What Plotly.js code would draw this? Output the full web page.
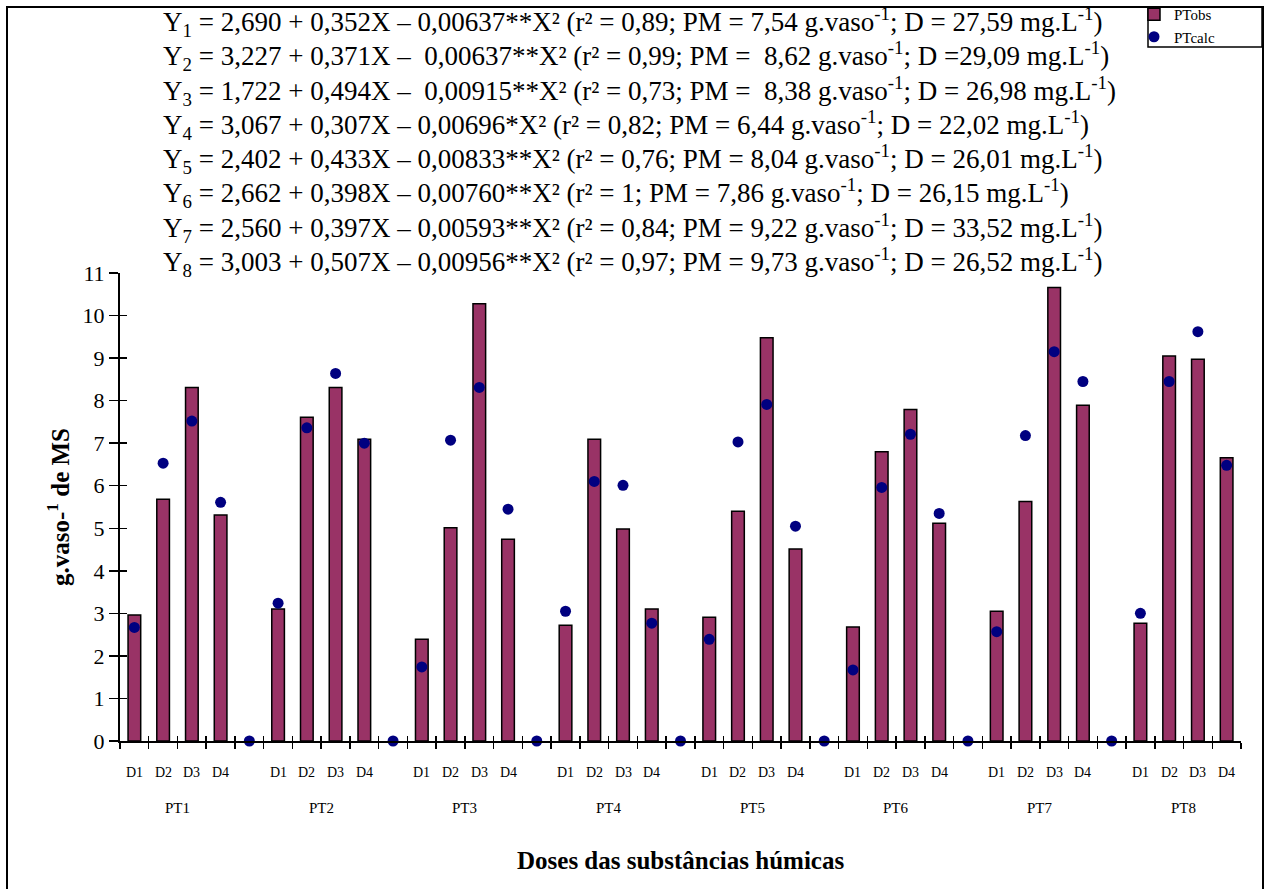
<!DOCTYPE html>
<html>
<head>
<meta charset="utf-8">
<script src="https://cdn.plot.ly/plotly-3.0.1.min.js"></script>
<style>html,body{margin:0;padding:0;background:#fff;}#chart{width:1270px;height:889px;}</style>
</head>
<body>
<div id="chart"></div>
<script>
// ---- data ----
const groups = ['PT1','PT2','PT3','PT4','PT5','PT6','PT7','PT8'];
const doses = ['D1','D2','D3','D4'];
// observed (bars), D1..D4 for PT1..PT8
const ptObs = [
  2.96, 5.68, 8.31, 5.31,
  3.10, 7.61, 8.31, 7.09,
  2.39, 5.01, 10.28, 4.74,
  2.72, 7.09, 4.98, 3.10,
  2.91, 5.40, 9.48, 4.51,
  2.68, 6.80, 7.79, 5.12,
  3.05, 5.63, 10.66, 7.89,
  2.77, 9.05, 8.97, 6.66
];
// calculated (dots), D1..D4 for PT1..PT8
const ptCalc = [
  2.67, 6.53, 7.52, 5.61,
  3.24, 7.36, 8.64, 7.00,
  1.74, 7.07, 8.31, 5.45,
  3.05, 6.10, 6.01, 2.77,
  2.39, 7.03, 7.91, 5.05,
  1.67, 5.96, 7.21, 5.35,
  2.57, 7.18, 9.15, 8.45,
  3.00, 8.45, 9.62, 6.48
];
// calculated value at the empty slot after each group (PT1..PT7)
const ptCalcGap = [0, 0, 0, 0, 0, 0, 0];
const equations = [
  'Y<sub>1</sub> = 2,690 + 0,352X – 0,00637**X² (r² = 0,89; PM = 7,54 g.vaso<sup>-1</sup>; D = 27,59 mg.L<sup>-1</sup>)',
  'Y<sub>2</sub> = 3,227 + 0,371X –  0,00637**X² (r² = 0,99; PM =  8,62 g.vaso<sup>-1</sup>; D =29,09 mg.L<sup>-1</sup>)',
  'Y<sub>3</sub> = 1,722 + 0,494X –  0,00915**X² (r² = 0,73; PM =  8,38 g.vaso<sup>-1</sup>; D = 26,98 mg.L<sup>-1</sup>)',
  'Y<sub>4</sub> = 3,067 + 0,307X – 0,00696*X² (r² = 0,82; PM = 6,44 g.vaso<sup>-1</sup>; D = 22,02 mg.L<sup>-1</sup>)',
  'Y<sub>5</sub> = 2,402 + 0,433X – 0,00833**X² (r² = 0,76; PM = 8,04 g.vaso<sup>-1</sup>; D = 26,01 mg.L<sup>-1</sup>)',
  'Y<sub>6</sub> = 2,662 + 0,398X – 0,00760**X² (r² = 1; PM = 7,86 g.vaso<sup>-1</sup>; D = 26,15 mg.L<sup>-1</sup>)',
  'Y<sub>7</sub> = 2,560 + 0,397X – 0,00593**X² (r² = 0,84; PM = 9,22 g.vaso<sup>-1</sup>; D = 33,52 mg.L<sup>-1</sup>)',
  'Y<sub>8</sub> = 3,003 + 0,507X – 0,00956**X² (r² = 0,97; PM = 9,73 g.vaso<sup>-1</sup>; D = 26,52 mg.L<sup>-1</sup>)'
];

// ---- positions (slot layout) ----
const SLOTS_PER_GROUP = 5;
const xDose = [], xLabel = [];
groups.forEach((g, gi) => doses.forEach((d, di) => { xDose.push(gi * SLOTS_PER_GROUP + di); xLabel.push(d); }));
const xGap = ptCalcGap.map((v, i) => i * SLOTS_PER_GROUP + 4);
const nSlots = groups.length * SLOTS_PER_GROUP - 1;
const bounds = [];
for (let i = 0; i <= nSlots; i++) bounds.push(i - 0.5);
const groupCenters = groups.map((g, gi) => gi * SLOTS_PER_GROUP + 1.5);
const xRange = [-0.5, nSlots - 0.5];
const yRange = [0, 11];

const FONT = "'Liberation Serif', 'Times New Roman', Times, serif";
const L = 120, R = 29, T = 273, B = 148, W = 1270, H = 889;
const pw = W - L - R, ph = H - T - B;
const px = X => (X - L) / pw;
const py = Y => (H - B - Y) / ph;

const traces = [
  {
    type: 'bar', name: 'PTobs', x: xDose, y: ptObs, width: 0.44,
    xaxis: 'x', yaxis: 'y',
    marker: { color: '#993366', line: { color: '#000', width: 1.5 } }
  },
  {
    type: 'scatter', mode: 'markers', name: 'PTcalc', x: xDose, y: ptCalc,
    xaxis: 'x2', yaxis: 'y2', legendgroup: 'calc',
    marker: { color: '#000080', size: 11, symbol: 'circle' },
    cliponaxis: false
  },
  {
    type: 'scatter', mode: 'markers', name: 'PTcalc', x: xGap, y: ptCalcGap,
    xaxis: 'x3', yaxis: 'y2', legendgroup: 'calc', showlegend: false,
    marker: { color: '#000080', size: 11, symbol: 'circle' },
    cliponaxis: false
  }
];

const annotations = equations.map((t, i) => ({
  text: t, xref: 'paper', yref: 'paper', x: px(161), y: py(22 + i * 34.3),
  xanchor: 'left', yanchor: 'middle', showarrow: false,
  font: { family: FONT, size: 27, color: '#000' }
}));
groups.forEach((g, gi) => annotations.push({
  text: g, xref: 'x', yref: 'paper', x: groupCenters[gi], y: py(808),
  xanchor: 'center', yanchor: 'middle', showarrow: false,
  font: { family: FONT, size: 15, color: '#000' }
}));
xDose.forEach((xv, i) => annotations.push({
  text: xLabel[i], xref: 'x', yref: 'paper', x: xv, y: py(772),
  xanchor: 'center', yanchor: 'middle', showarrow: false,
  font: { family: FONT, size: 14, color: '#000' }
}));
annotations.push({
  text: '<b>Doses das substâncias húmicas</b>', xref: 'paper', yref: 'paper',
  x: px(680), y: py(860), xanchor: 'center', yanchor: 'middle', showarrow: false,
  font: { family: FONT, size: 25, color: '#000' }
});

const layout = {
  width: W, height: H,
  margin: { l: L, r: R, t: T, b: B, pad: 0, autoexpand: false },
  paper_bgcolor: '#fff', plot_bgcolor: 'rgba(0,0,0,0)',
  showlegend: true,
  legend: {
    x: px(1134), y: py(-2), xanchor: 'left', yanchor: 'top',
    bgcolor: 'rgba(0,0,0,0)', borderwidth: 0,
    font: { family: FONT, size: 15, color: '#000' },
    itemwidth: 30, tracegroupgap: 0, traceorder: 'normal'
  },
  xaxis: {
    range: xRange, showgrid: false, zeroline: false, automargin: false,
    showline: true, linecolor: '#000', linewidth: 2,
    tickmode: 'array', tickvals: bounds, ticks: 'outside', ticklen: 6, tickwidth: 1.5, tickcolor: '#000',
    showticklabels: false
  },
  xaxis2: {
    overlaying: 'x', anchor: 'y', side: 'bottom', automargin: false,
    range: xRange, showgrid: false, zeroline: false, showline: false,
    tickmode: 'array', tickvals: bounds, ticks: 'inside', ticklen: 5, tickwidth: 1.5, tickcolor: '#000',
    showticklabels: false
  },
  xaxis3: {
    overlaying: 'x', anchor: 'y', side: 'bottom', automargin: false,
    range: xRange, showgrid: false, zeroline: false, showline: false,
    ticks: '', showticklabels: false
  },
  yaxis: {
    range: yRange, showgrid: false, zeroline: false, automargin: false,
    showline: true, linecolor: '#000', linewidth: 2,
    tickmode: 'linear', tick0: 0, dtick: 1,
    ticks: 'outside', ticklen: 9, tickwidth: 1.5, tickcolor: '#000',
    tickfont: { family: FONT, size: 22, color: '#000' },
    title: { text: '<b>g.vaso-<sup>1</sup> de MS</b>', standoff: 6, font: { family: FONT, size: 25, color: '#000' } }
  },
  yaxis2: {
    overlaying: 'y', anchor: 'x', side: 'left', automargin: false,
    range: yRange, showgrid: false, zeroline: false, showline: false,
    tickmode: 'linear', tick0: 0, dtick: 1,
    ticks: 'inside', ticklen: 7, tickwidth: 1.5, tickcolor: '#000', showticklabels: false
  },
  shapes: [
    {
      type: 'rect', xref: 'paper', yref: 'paper',
      x0: px(7), x1: px(1263), y0: py(895), y1: py(7),
      line: { color: '#000', width: 2 }, fillcolor: 'rgba(0,0,0,0)', layer: 'below'
    },
    {
      type: 'rect', xref: 'paper', yref: 'paper',
      x0: px(1148), x1: px(1262), y0: py(47), y1: py(7),
      line: { color: '#000', width: 1.5 }, fillcolor: 'rgba(0,0,0,0)', layer: 'below'
    }
  ],
  annotations: annotations,
  bargap: 0
};

Plotly.newPlot('chart', traces, layout, { staticPlot: true });
</script>
</body>
</html>
